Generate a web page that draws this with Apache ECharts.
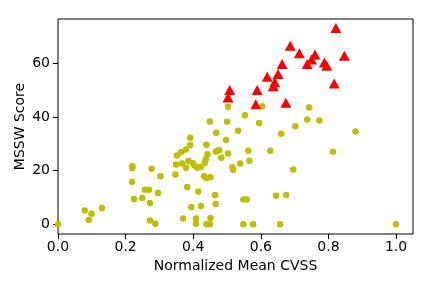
<!DOCTYPE html>
<html><head><meta charset="utf-8">
<script src="https://cdn.jsdelivr.net/npm/echarts@6/dist/echarts.min.js"></script>
<style>html,body{margin:0;padding:0;background:#fff}#c{width:432px;height:288px}</style>
</head><body><div id="c"></div>
<script>
// Yellow points: [Normalized Mean CVSS, MSSW Score]
const otherX = [0.000,0.079,0.091,0.099,0.130,0.220,0.220,0.219,0.225,0.249,0.257,0.269,0.272,0.272,0.288,0.277,0.296,0.303,0.347,0.349,0.352,0.364,0.367,0.370,0.378,0.379,0.382,0.386,0.391,0.391,0.394,0.398,0.404,0.408,0.408,0.412,0.415,0.422,0.423,0.432,0.434,0.437,0.439,0.439,0.439,0.442,0.449,0.449,0.451,0.451,0.465,0.466,0.467,0.468,0.477,0.483,0.497,0.500,0.503,0.503,0.516,0.518,0.533,0.539,0.548,0.558,0.548,0.553,0.563,0.566,0.577,0.595,0.604,0.628,0.645,0.657,0.660,0.675,0.696,0.702,0.737,0.743,0.773,0.813,0.880,1.000];
const otherY = [0.0,5.1,1.6,3.9,6.1,21.7,21.0,15.8,9.4,9.8,12.9,12.9,7.9,1.4,0.2,20.7,11.7,17.9,18.6,22.3,25.7,26.9,22.7,2.1,27.9,21.1,13.9,23.6,29.6,32.3,6.4,22.9,21.9,2.1,0.2,21.1,12.2,21.4,6.8,17.9,22.9,24.2,29.7,17.3,0.0,26.1,38.4,0.0,17.5,2.3,10.9,7.6,27.2,34.2,27.6,24.8,31.5,38.3,26.4,43.9,21.3,20.3,34.9,22.7,9.2,9.2,0.0,40.7,27.4,23.7,0.0,37.8,44.1,27.4,10.6,0.0,33.8,10.9,20.4,36.6,39.1,43.6,38.7,27.1,34.6,0.0];
// Red triangles
const topX = [0.503,0.508,0.585,0.589,0.619,0.637,0.641,0.651,0.663,0.674,0.687,0.714,0.737,0.750,0.760,0.788,0.795,0.817,0.822,0.847];
const topY = [47.3,50.1,44.8,50.1,55.1,51.5,53.0,56.1,59.8,45.4,66.7,63.9,59.8,61.5,63.4,60.4,59.2,52.6,73.3,62.9];
const xTicks = [0,0.2,0.4,0.6,0.8,1.0];
const yTicks = [0,20,40,60];
const xTitle = 'Normalized Mean CVSS';
const yTitle = 'MSSW Score';

const pair = (xs, ys) => xs.map((x, i) => [x, ys[i]]);
const font = 'DejaVu Sans';
const chart = echarts.init(document.getElementById('c'), null, {renderer: 'canvas'});
chart.setOption({
  animation: false,
  backgroundColor: '#fff',
  grid: {left: 58, right: 19, top: 19, bottom: 54, show: true, borderColor: '#000', borderWidth: 1, backgroundColor: 'transparent'},
  xAxis: {
    type: 'value', min: 0, max: 1.05,
    name: xTitle, nameLocation: 'middle', nameGap: 25, nameMoveOverlap: false,
    nameTextStyle: {fontFamily: font, fontSize: 14, color: '#000'},
    axisLine: {show: false, onZero: false},
    axisTick: {show: true, inside: false, length: 5, lineStyle: {color: '#000'}, customValues: xTicks},
    axisLabel: {fontFamily: font, fontSize: 14, color: '#000', margin: 6, customValues: xTicks, formatter: v => v.toFixed(1)},
    splitLine: {show: false}
  },
  yAxis: {
    type: 'value', min: -3.65, max: 76.65,
    name: yTitle, nameLocation: 'middle', nameGap: 31, nameMoveOverlap: false,
    nameTextStyle: {fontFamily: font, fontSize: 14, color: '#000'},
    axisLine: {show: false, onZero: false},
    axisTick: {show: true, inside: false, length: 5, lineStyle: {color: '#000'}, customValues: yTicks},
    axisLabel: {fontFamily: font, fontSize: 14, color: '#000', margin: 8, customValues: yTicks},
    splitLine: {show: false}
  },
  series: [
    {type: 'scatter', data: pair(otherX, otherY), symbol: 'circle', symbolSize: 6.5,
     itemStyle: {color: '#bfbf00', opacity: 1}},
    {type: 'scatter', data: pair(topX, topY), symbol: 'triangle', symbolSize: [11, 10],
     itemStyle: {color: '#ff0000', opacity: 1}}
  ]
});
</script></body></html>
